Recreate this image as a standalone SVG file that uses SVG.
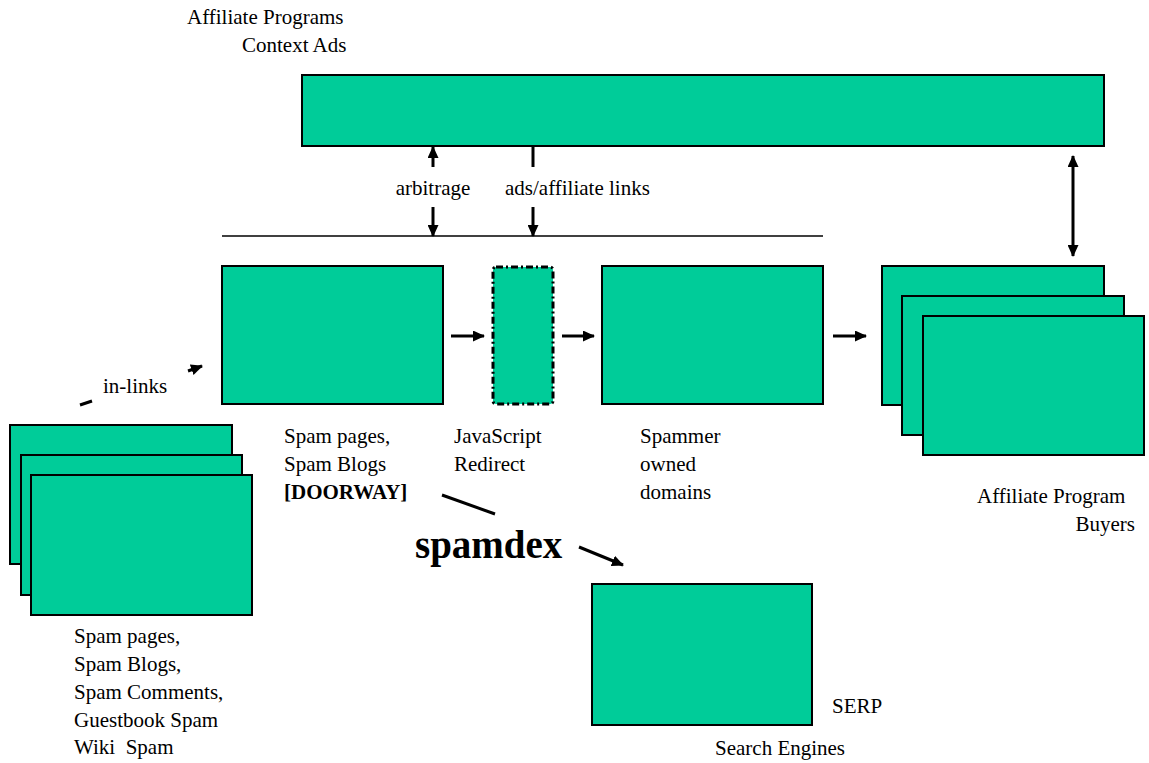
<svg xmlns="http://www.w3.org/2000/svg" width="1149" height="763" viewBox="0 0 1149 763">
  <style>
    .box { fill: #00CC99; stroke: #000; stroke-width: 2; }
    .dash { fill: #00CC99; stroke: #000; stroke-width: 3; stroke-dasharray: 7 3 2 3; }
    text { font-family: "Liberation Serif", "DejaVu Serif", serif; font-size: 21px; fill: #000; }
    .big { font-size: 39px; font-weight: bold; }
    .arr { stroke: #000; stroke-width: 3; fill: none; }
    .thin { stroke: #000; stroke-width: 1.5; fill: none; }
  </style>
  <defs>
    <marker id="head" markerUnits="userSpaceOnUse" markerWidth="12" markerHeight="11" refX="11" refY="5.5" orient="auto-start-reverse">
      <path d="M0,0 L12,5.5 L0,11 z" fill="#000"/>
    </marker>
  </defs>
  <rect width="1149" height="763" fill="#fff"/>

  <!-- affiliate programs / context ads bar -->
  <g id="affiliate-programs">
    <rect class="box" x="302" y="75" width="802" height="71"/>
    <text x="187" y="24" font-family="Liberation Serif, DejaVu Serif, serif">Affiliate Programs</text>
    <text x="242" y="52" font-family="Liberation Serif, DejaVu Serif, serif">Context Ads</text>
  </g>

  <!-- doorway pages -->
  <g id="doorway">
    <rect class="box" x="222" y="266" width="221" height="138"/>
    <text x="284" y="443">Spam pages,</text>
    <text x="284" y="471">Spam Blogs</text>
    <text x="284" y="499" font-weight="bold">[DOORWAY]</text>
  </g>

  <!-- javascript redirect -->
  <g id="redirect">
    <rect class="dash" x="493" y="267" width="60" height="137" rx="3"/>
    <text x="454" y="443">JavaScript</text>
    <text x="454" y="471">Redirect</text>
  </g>

  <!-- spammer owned domains -->
  <g id="spammer-domains">
    <rect class="box" x="602" y="266" width="221" height="138"/>
    <text x="640" y="443">Spammer</text>
    <text x="640" y="471">owned</text>
    <text x="640" y="499">domains</text>
  </g>

  <!-- affiliate program buyers stack -->
  <g id="buyers">
    <rect class="box" x="882" y="266" width="222" height="139"/>
    <rect class="box" x="902" y="296" width="222" height="139"/>
    <rect class="box" x="923" y="316" width="221" height="139"/>
    <text x="977" y="503">Affiliate Program</text>
    <text x="1135" y="531" text-anchor="end">Buyers</text>
  </g>

  <!-- spam sources stack -->
  <g id="spam-sources">
    <rect class="box" x="10" y="425" width="222" height="139"/>
    <rect class="box" x="21" y="455" width="221" height="140"/>
    <rect class="box" x="31" y="475" width="221" height="140"/>
    <text x="74" y="643">Spam pages,</text>
    <text x="74" y="671">Spam Blogs,</text>
    <text x="74" y="699">Spam Comments,</text>
    <text x="74" y="727">Guestbook Spam</text>
    <text x="74" y="754" xml:space="preserve">Wiki  Spam</text>
  </g>

  <!-- search engines -->
  <g id="search-engines">
    <rect class="box" x="592" y="584" width="220" height="141"/>
    <text x="832" y="713">SERP</text>
    <text x="715" y="755">Search Engines</text>
  </g>

  <!-- spamdex label -->
  <g id="spamdex">
    <text class="big" x="415" y="558">spamdex</text>
  </g>

  <!-- connectors -->
  <g id="connectors">
    <line class="thin" x1="222" y1="236" x2="823" y2="236"/>
    <line class="arr" x1="433" y1="167" x2="433" y2="147" marker-end="url(#head)"/>
    <line class="arr" x1="433" y1="207" x2="433" y2="236" marker-end="url(#head)"/>
    <line class="arr" x1="533" y1="146" x2="533" y2="167"/>
    <line class="arr" x1="533" y1="207" x2="533" y2="236" marker-end="url(#head)"/>
    <text x="433" y="195" text-anchor="middle">arbitrage</text>
    <text x="505" y="195">ads/affiliate links</text>

    <line class="arr" x1="451" y1="336" x2="484" y2="336" marker-end="url(#head)"/>
    <line class="arr" x1="562" y1="336" x2="594" y2="336" marker-end="url(#head)"/>
    <line class="arr" x1="833" y1="336" x2="866" y2="336" marker-end="url(#head)"/>
    <line class="arr" x1="1073" y1="156" x2="1073" y2="256" marker-start="url(#head)" marker-end="url(#head)"/>

    <line class="arr" x1="80" y1="405" x2="92" y2="401"/>
    <line class="arr" x1="188" y1="371" x2="202" y2="366" marker-end="url(#head)"/>
    <text x="103" y="393">in-links</text>

    <line class="arr" x1="442" y1="495" x2="495" y2="514"/>
    <line class="arr" x1="579" y1="547" x2="623" y2="565" marker-end="url(#head)"/>
  </g>
</svg>
